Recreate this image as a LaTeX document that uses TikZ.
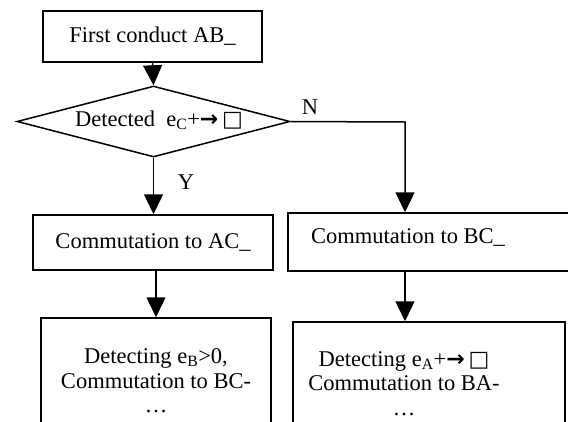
\documentclass[tikz,border=0pt]{standalone}
\usepackage{fontspec}
\setmainfont{Liberation Serif}
\newfontfamily\symfont{DejaVu Sans}
\usetikzlibrary{arrows.meta,shapes.geometric}
\begin{document}
\begin{tikzpicture}[x=1pt,y=-1pt,
  box/.style={draw,line width=1.5pt,rectangle,inner sep=0pt},
  conn/.style={line width=1.5pt,-{Triangle[width=19pt,length=20pt]}},
  txt/.style={font=\fontsize{22.5}{24.5}\selectfont,inner sep=0pt,align=center}]
\useasboundingbox (0,0) rectangle (568,421);
\clip (0,0) rectangle (568,421);
% boxes
\node[box,txt,minimum width=219pt,minimum height=51pt] (start) at (152.5,36.5) {First conduct AB\_};
\node[draw,diamond,line width=1.5pt,minimum width=273pt,minimum height=71pt,inner sep=0pt] (dec) at (153.5,121.5) {};
\node[txt] (dect) at (159,120) {Detected\ \ e\textsubscript{C}+{\symfont\bfseries\fontsize{22}{22}\selectfont →}\,{\symfont\fontsize{22}{22}\selectfont □}};
\node[box,txt,minimum width=240pt,minimum height=55pt] (acbox) at (153,242.5) {Commutation to AC\_};
\node[box,minimum width=292pt,minimum height=58pt] (bcbox) at (434,242) {};
\node[txt] (bctext) at (408,237) {Commutation to BC\_};
\node[box,txt,minimum width=230pt,minimum height=126pt] (bot1) at (156,381) {Detecting e\textsubscript{B}>0,\\Commutation to BC-\\\dots};
\node[box,minimum width=272pt,minimum height=124pt] (bot2) at (429,384) {};
\node[txt] (bot2t) at (404,383.5) {Detecting e\textsubscript{A}+{\symfont\bfseries\fontsize{22}{22}\selectfont →}\,{\symfont\fontsize{22}{22}\selectfont □}\\Commutation to BA-\\\dots};
% labels
\node[txt] (nlab) at (310,107) {N};
\node[txt] (ylab) at (186,182) {Y};
% connectors
\coordinate (ncorner) at (405,122);
\draw[conn] (start.south) -- (dec.north);
\draw[conn] (dec.south) -- (dec.south |- acbox.north);
\draw[conn] (dec.east) -- (ncorner) -- (ncorner |- bcbox.north);
\draw[conn] (bot1.north |- acbox.south) -- (bot1.north);
\draw[conn] (ncorner |- bcbox.south) -- (ncorner |- bot2.north);
\end{tikzpicture}
\end{document}
